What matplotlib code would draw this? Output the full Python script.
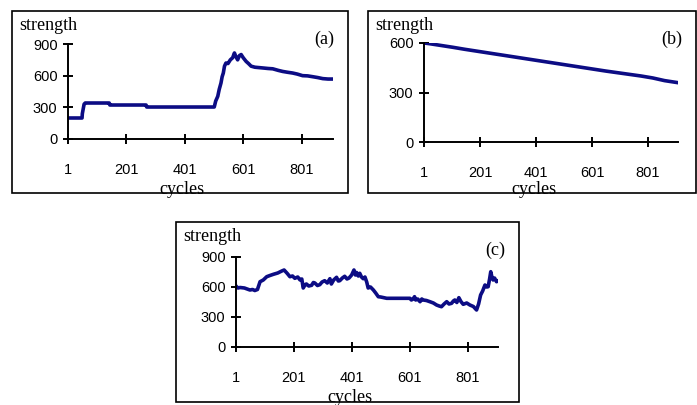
from matplotlib import pyplot as plt
from matplotlib.patches import Rectangle

W, H = 697, 405

# (a)
a_x = [1, 49, 50, 56, 60, 142, 144, 268, 270, 501, 506, 513, 518, 524, 528, 532, 536, 541, 548, 556,
       564, 570, 575, 581, 587, 593, 600, 610, 618, 627, 640, 667, 685, 701, 720, 735, 752, 769, 785,
       803, 820, 838, 855, 872, 890, 906]
a_y = [199, 199, 240, 330, 341, 341, 322, 322, 303, 303, 360, 404, 470, 530, 590, 625, 690, 720, 715,
       750, 770, 815, 780, 750, 790, 800, 770, 735, 715, 690, 680, 673, 668, 665, 650, 640, 632, 625,
       615, 600, 598, 590, 582, 572, 568, 568]

# (b)
b_x = [1, 20, 62, 104, 146, 188, 230, 272, 314, 356, 398, 440, 482, 524, 566, 608, 650, 692, 734,
       776, 818, 860, 906]
b_y = [600, 596, 585, 574, 562, 551, 540, 529, 518, 507, 496, 485, 474, 463, 452, 441, 430, 420,
       410, 400, 388, 372, 360]

# (c)
c_x = [1, 3, 8, 15, 30, 49, 58, 66, 75, 84, 95, 107, 118, 130, 145, 159, 167, 178, 187, 196, 204,
       214, 222, 228, 233, 240, 244, 252, 262, 268, 273, 282, 290, 298, 307, 316, 325, 330, 338, 348,
       354, 359, 368, 376, 384, 391, 400, 408, 413, 417, 423, 428, 434, 440, 446, 452, 457, 465, 475,
       483, 492, 500, 521, 560, 601, 606, 612, 617, 621, 628, 636, 642, 647, 658, 670, 682, 693, 702,
       710, 719, 728, 736, 745, 751, 756, 763, 770, 777, 785, 797, 808, 820, 831, 838, 845, 852, 860,
       866, 871, 876, 880, 884, 888, 893, 900, 904]
c_y = [610, 603, 590, 595, 590, 570, 575, 565, 575, 653, 670, 703, 715, 727, 740, 760, 770, 735,
       703, 710, 687, 700, 670, 680, 590, 625, 630, 610, 617, 645, 640, 615, 623, 650, 663, 640, 683,
       630, 670, 697, 660, 663, 690, 707, 680, 690, 720, 770, 720, 745, 710, 737, 700, 683, 700, 650,
       590, 600, 570, 540, 503, 500, 487, 487, 487, 470, 480, 503, 470, 480, 453, 480, 470, 465, 453,
       440, 420, 410, 403, 430, 453, 430, 437, 460, 470, 445, 493, 455, 427, 440, 420, 405, 370, 430,
       520, 560, 620, 600, 603, 680, 753, 700, 670, 690, 653, 660]

x_ticks = [1, 201, 401, 601, 801]

fig = plt.figure(figsize=(W / 100, H / 100), dpi=100)
navy = '#0c0c84'


def frame(x0, y0, x1, y1):
    r = Rectangle((x0 / W, 1 - y1 / H), (x1 - x0) / W, (y1 - y0) / H, transform=fig.transFigure,
                  fill=False, lw=1.2, ec='black')
    fig.add_artist(r)


def panel(left, right, top, bottom, xmax, ymax, yticks, xs, ys, tag, frm):
    frame(*frm)
    ax = fig.add_axes([left / W, 1 - bottom / H, (right - left) / W, (bottom - top) / H])
    ax.plot(xs, ys, color=navy, lw=2.6)
    ax.set_xlim(1, xmax)
    ax.set_ylim(0, ymax)
    ax.set_xticks(x_ticks)
    ax.set_yticks(yticks)
    ax.spines['top'].set_visible(False)
    ax.spines['right'].set_visible(False)
    ax.spines['left'].set_linewidth(1.4)
    ax.spines['bottom'].set_linewidth(1.4)
    ax.patch.set_alpha(0)
    ax.tick_params(direction='inout', length=7, width=1.4, labelsize=10.5)
    ax.tick_params(axis='x', pad=14)
    ax.tick_params(axis='y', pad=4)
    for lbl in ax.get_xticklabels() + ax.get_yticklabels():
        lbl.set_fontfamily('Liberation Sans')
    serif = dict(family='Liberation Serif', fontsize=13)
    fig.text((frm[0] + 7) / W, 1 - (frm[1] + 15) / H, 'strength', va='center', ha='left', **serif)
    fig.text((frm[2] - 14) / W, 1 - (frm[1] + 28) / H, tag, va='center', ha='right', **serif)
    fig.text(((frm[0] + frm[2]) / 2 + 2) / W, 1 - (frm[3] - 4) / H, 'cycles', va='center', ha='center', **serif)
    return ax


panel(68, 333, 44, 139, 907, 900, [0, 300, 600, 900], a_x, a_y, '(a)', (12, 11, 348, 193))
panel(424, 678, 43, 142, 908, 600, [0, 300, 600], b_x, b_y, '(b)', (368, 11, 696, 193))
panel(236, 498, 257, 347, 905, 900, [0, 300, 600, 900], c_x, c_y, '(c)', (176, 222, 519, 402))

fig.savefig('out.png', dpi=100)
